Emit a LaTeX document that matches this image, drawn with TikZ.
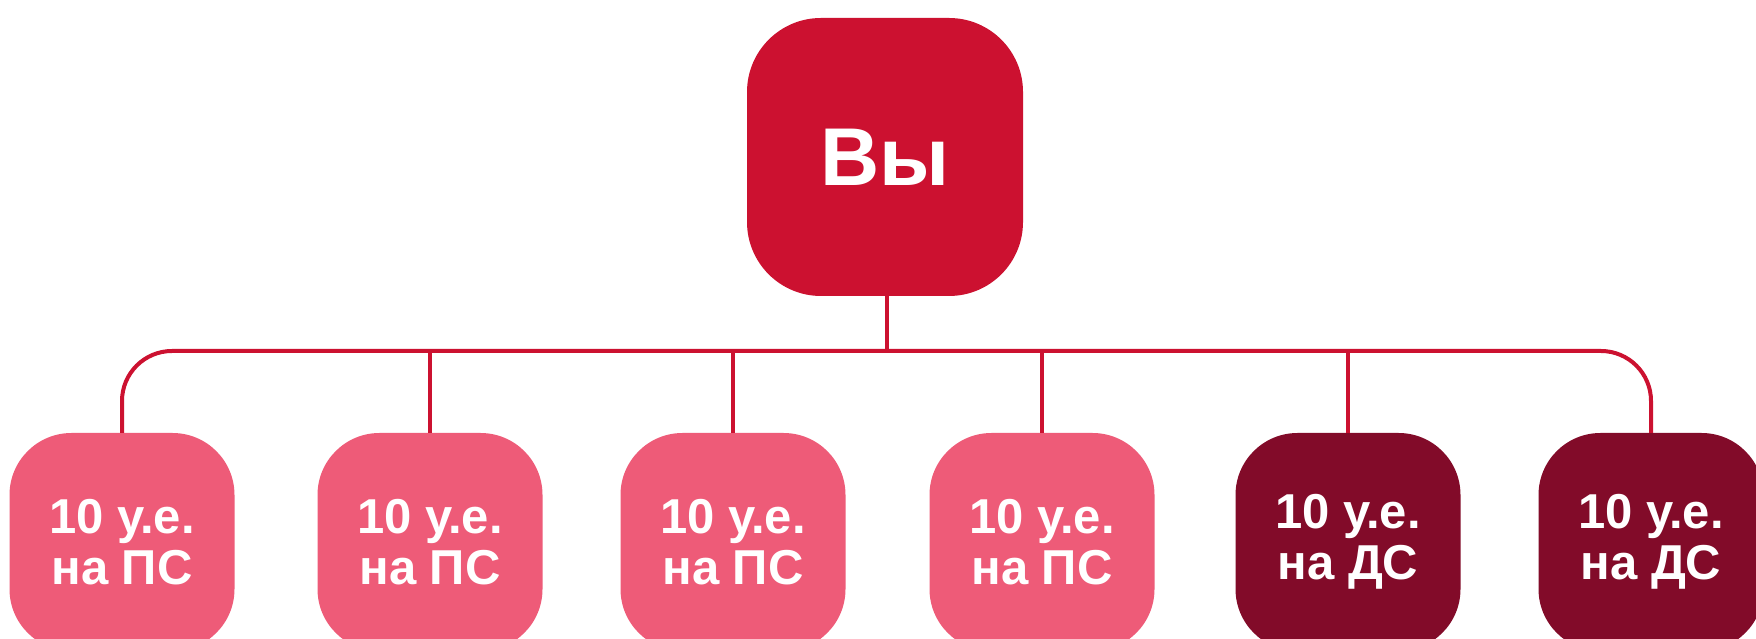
\documentclass[tikz,border=0pt]{standalone}
\usepackage{fontspec}
\setmainfont{Liberation Sans}
\definecolor{crimson}{HTML}{CC1130}
\definecolor{pinkbox}{HTML}{EE5B78}
\definecolor{darkbox}{HTML}{820B29}
\tikzset{
  topbox/.style={fill=crimson, rounded corners=74pt, minimum width=276pt, minimum height=278pt, inner sep=0pt, text=white, font=\fontsize{82}{90}\selectfont\bfseries},
  leafbox/.style={rounded corners=62pt, minimum width=225pt, minimum height=218pt, inner sep=0pt, text=white, align=center, font=\fontsize{49}{51}\selectfont\bfseries},
  psbox/.style={leafbox, fill=pinkbox},
  dsbox/.style={leafbox, fill=darkbox},
  conn/.style={draw=crimson, line width=4pt}
}
\begin{document}
\begin{tikzpicture}[x=1pt,y=1pt]
\clip (0,0) rectangle (1756,639);
\fill[white] (0,0) rectangle (1756,639);
\node[topbox] (you) at (885,482) {Вы};
\coordinate (j) at (887,288);
\node[psbox] (b1) at (122,97) {10 у.е.\\на ПС};
\node[psbox] (b2) at (430,97) {10 у.е.\\на ПС};
\node[psbox] (b3) at (733,97) {10 у.е.\\на ПС};
\node[psbox] (b4) at (1042,97) {10 у.е.\\на ПС};
\node[dsbox] (b5) at (1348,97) {10 у.е.\\на ДС};
\node[dsbox] (b6) at (1651,97) {10 у.е.\\на ДС};
\draw[conn] (you.south -| j) -- (j);
\draw[conn, rounded corners=50pt] (b1.north) |- (j) -| (b6.north);
\draw[conn] (b2.north) -- (b2.north |- j);
\draw[conn] (b3.north) -- (b3.north |- j);
\draw[conn] (b4.north) -- (b4.north |- j);
\draw[conn] (b5.north) -- (b5.north |- j);
\end{tikzpicture}
\end{document}
